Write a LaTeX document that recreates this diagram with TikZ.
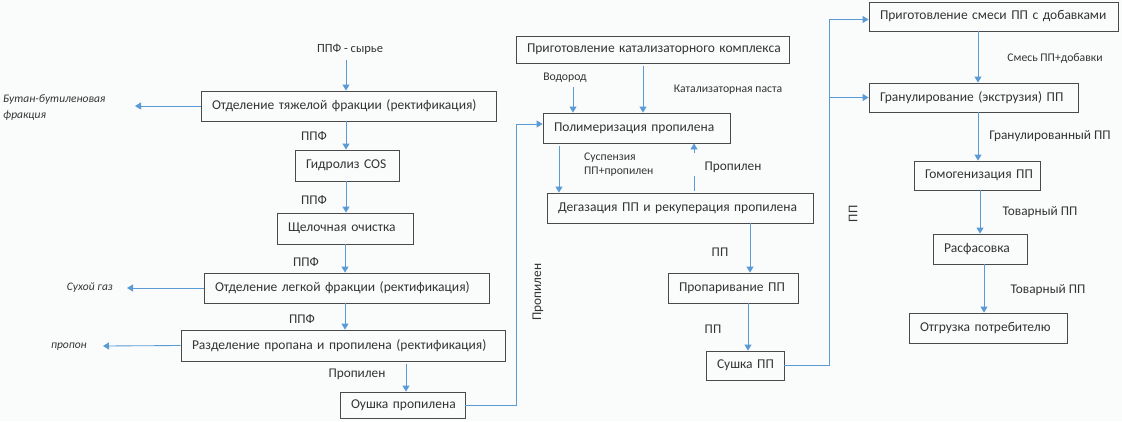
\documentclass[tikz,border=0pt]{standalone}
\usepackage{fontspec}
\setmainfont{Carlito}
\usetikzlibrary{arrows.meta}
\definecolor{bg}{HTML}{FAFCFC}
\definecolor{ln}{HTML}{5B9BD5}
\definecolor{bd}{HTML}{4A4A4A}
\definecolor{tx}{HTML}{333333}
\tikzset{
  box/.style={draw=bd, line width=0.85pt, rectangle, inner ysep=0pt, inner xsep=11pt,
    align=left, text width=#1, text=tx, font=\fontsize{13.5}{15}\selectfont},
  arr/.style={draw=ln, line width=0.85pt, -{Triangle[width=7pt,length=6pt]}},
  lbl/.style={text=tx, inner sep=0pt, font=\fontsize{13.3}{15}\selectfont},
  sml/.style={text=tx, inner sep=0pt, font=\fontsize{11.7}{14}\selectfont},
  itl/.style={text=tx, inner sep=0pt, font=\fontsize{11.5}{16}\selectfont\itshape},
}
\begin{document}
\begin{tikzpicture}[x=1pt,y=-1pt]
\fill[bg] (0,0) rectangle (1122,421);
\useasboundingbox (0,0) rectangle (1122,421);
% boxes
\node[box=273pt, minimum height=30pt] (b1) at (348.5,106) {\mbox{Отделение тяжелой фракции (ректификация)}};
\node[box=82pt, minimum height=31pt] (b2) at (347,165.5) {\mbox{Гидролиз COS}};
\node[box=114pt, minimum height=31pt] (b3) at (345,228.5) {\mbox{Щелочная очистка}};
\node[box=263pt, minimum height=30pt] (b4) at (346.5,288) {\mbox{Отделение легкой фракции (ректификация)}};
\node[box=302pt, minimum height=31pt] (b5) at (343,345.5) {\mbox{Разделение пропана и пропилена (ректификация)}};
\node[box=103pt, minimum height=26pt] (b6) at (402.5,405) {\mbox{Оушка пропилена}};
\node[box=251pt, minimum height=27pt] (b7) at (652.5,49.5) {\mbox{Приготовление катализаторного комплекса}};
\node[box=165pt, minimum height=30pt] (b8) at (636.5,128) {\mbox{Полимеризация пропилена}};
\node[box=244pt, minimum height=30pt] (b9) at (680,208) {\mbox{Дегазация ПП и рекуперация пропилена}};
\node[box=108pt, minimum height=30pt] (b10) at (733,288) {\mbox{Пропаривание ПП}};
\node[box=56pt, minimum height=29pt] (b11) at (745,365.5) {\mbox{Сушка ПП}};
\node[box=227pt, minimum height=29pt] (b12) at (993.5,16.5) {\mbox{Приготовление смеси ПП с добавками}};
\node[box=187pt, minimum height=29pt] (b13) at (973.5,97.5) {\mbox{Гранулирование (экструзия) ПП}};
\node[box=104pt, minimum height=29pt] (b14) at (977,175.5) {\mbox{Гомогенизация ПП}};
\node[box=72pt, minimum height=30pt] (b15) at (980,249) {\mbox{Расфасовка}};
\node[box=136pt, minimum height=30pt] (b16) at (988,328) {\mbox{Отгрузка потребителю}};
% labels
\node[lbl, font=\fontsize{12.5}{14}\selectfont] (t0) at (350,49) {ППФ - сырье};
\node[itl, anchor=west, align=left] (o1) at (3,108) {Бутан-бутиленовая\\фракция};
\node[itl, anchor=east] (o2) at (113,288) {Сухой газ};
\node[itl, anchor=east] (o3) at (87,347) {пропон};
\node[lbl] at (314,136) {ППФ};
\node[lbl] at (314,200) {ППФ};
\node[lbl] at (306,262) {ППФ};
\node[lbl] at (302,319) {ППФ};
\node[lbl] at (357,374) {Пропилен};
\node[lbl, rotate=90] at (538,292) {Пропилен};
\node[sml] (tv) at (565,78) {Водород};
\node[sml] at (728,90) {Катализаторная паста};
\node[sml, anchor=west, align=left] at (584,165) {Суспензия\\ПП+пропилен};
\node[lbl] at (733,167) {Пропилен};
\node[lbl] at (720,252) {ПП};
\node[lbl] at (713,329) {ПП};
\node[lbl, rotate=90] at (853,214) {ПП};
\node[sml] at (1055,58) {Смесь ПП+добавки};
\node[lbl] at (1050,136) {Гранулированный ПП};
\node[lbl] at (1040,212) {Товарный ПП};
\node[lbl] at (1048,290) {Товарный ПП};
% free ends
\coordinate (c1) at (135,106);
\coordinate (c2) at (127,288);
\coordinate (c3) at (103,346);
\coordinate (g1) at (694,176);
\coordinate (g2) at (694,153);
% connectors left column
\draw[arr] (346,0 |- t0.south) ++(0,6) -- (346,0 |- b1.north);
\draw[arr] (b1.west) -- (c1);
\draw[arr] (346,0 |- b1.south) -- (346,0 |- b2.north);
\draw[arr] (346,0 |- b2.south) -- (346,0 |- b3.north);
\draw[arr] (345,0 |- b3.south) -- (345,0 |- b4.north);
\draw[arr] (b4.west) -- (c2);
\draw[arr] (345,0 |- b4.south) -- (345,0 |- b5.north);
\draw[arr] (b5.west) -- (c3);
\draw[arr] (406,0 |- b5.south) ++(0,3) -- (406,0 |- b6.north);
\draw[arr] (b6.east) -- (516,0 |- b6.east) |- ([yshift=4pt]b8.west);
% middle column
\draw[arr] (573,0 |- tv.south) ++(0,4) -- (573,0 |- b8.north);
\draw[arr] (643,0 |- b7.south) ++(0,3) -- (643,0 |- b8.north);
\draw[arr] (559,0 |- b8.south) ++(0,3) -- (559,0 |- b9.north);
\draw[arr] (694,0 |- b9.north) ++(0,-2) -- (g1) (g2) -- (694,0 |- b8.south);
\draw[arr] (750,0 |- b9.south) -- (750,0 |- b10.north);
\draw[arr] (748,0 |- b10.south) -- (748,0 |- b11.north);
% right column
\draw[arr] (b11.east) -- (829,0 |- b11.east) |- ([yshift=-3pt]b12.west);
\draw[arr] (829,0 |- b13.west) -- (b13.west);
\draw[arr] (978,0 |- b12.south) -- (978,0 |- b13.north);
\draw[arr] (978,0 |- b13.south) -- (978,0 |- b14.north);
\draw[arr] (980,0 |- b14.south) -- (980,0 |- b15.north);
\draw[arr] (984,0 |- b15.south) -- (984,0 |- b16.north);
\end{tikzpicture}
\end{document}
